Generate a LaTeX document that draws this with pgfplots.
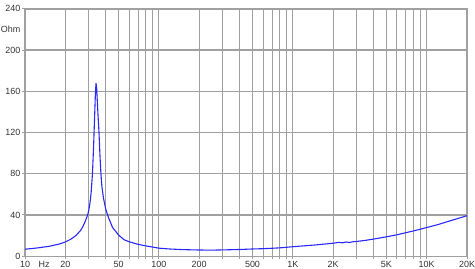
\documentclass[border=0pt]{standalone}
\usepackage{fontspec}
\setmainfont{Liberation Sans}
\usepackage{pgfplots}
\pgfplotsset{compat=1.18}
\definecolor{gridgray}{RGB}{160,160,160}
\definecolor{curveblue}{RGB}{40,40,250}
\begin{document}
\begin{tikzpicture}
\begin{axis}[
  scale only axis,
  width=442bp, height=247.3bp,
  xmode=log,
  xmin=10, xmax=20000,
  ymin=0, ymax=240,
  axis line style={gridgray, line width=1.2bp},
  xtick={10,20,50,100,200,500,1000,2000,5000,10000,20000},
  xticklabels={10,20,50,100,200,500,1K,2K,5K,10K,20K},
  minor xtick={30,40,60,70,80,90,300,400,600,700,800,900,3000,4000,6000,7000,8000,9000},
  ytick={0,40,80,120,160,200,240},
  xmajorgrids=true, xminorgrids=true, ymajorgrids=true,
  grid style={gridgray, line width=1bp},
  y grid style={gridgray, line width=1.3bp},
  tick align=outside,
  major tick length=3bp,
  minor tick length=3bp,
  every tick/.style={gridgray, line width=1bp},
  tick pos=left,
  tick label style={font=\fontsize{9}{10}\selectfont, text=black!80},
  /pgf/number format/assume math mode=true,
  log ticks with fixed point,
  xticklabel style={inner sep=1.5pt},
  yticklabel style={inner sep=1.5pt},
  clip=true,
]
\coordinate (bl) at (rel axis cs:0,0);
\coordinate (tr) at (rel axis cs:1,1);
\coordinate (hz) at (axis cs:13.9,0);
\coordinate (ohm) at (axis cs:10,220);
\addplot[curveblue, line width=1.1pt] coordinates {
(10,6.8) (12,7.8) (15,9.5) (18,11.8) (20,13.8) (22,16.5) (24,20) (26,25)
(27,28.5) (28,33) (29,38) (29.5,41) (30,45) (30.6,52) (31.2,62) (31.9,80)
(32.5,105) (33,130) (33.5,155) (33.9,168) (34.3,163) (35,140) (35.7,120)
(36.3,98) (36.9,80) (37.5,68) (38.5,57) (40,46) (41.9,38) (45,28)
(50,20.5) (55,16) (60,14) (70,11.5) (80,10) (100,7.8) (120,7) (150,6.4)
(200,6) (250,5.9) (300,6.1) (400,6.5) (500,7) (600,7.3) (700,7.7) (800,8.1)
(1000,9.2) (1200,10) (1500,11) (1800,12) (2000,12.6) (2200,13.4) (2350,13)
(2500,13.8) (2650,13.3) (2800,14) (3000,14.3) (3500,15.4) (4000,16.6)
(5000,18.8) (6000,20.8) (7000,22.8) (8000,24.6) (10000,27.8) (12000,30.5)
(14000,33.2) (17000,36.5) (20000,39.3)
};
\end{axis}
\node[anchor=north, inner sep=1.5pt, font=\fontsize{9}{10}\selectfont, text=black!80] at ([yshift=-3bp]hz) {Hz};
\node[anchor=east, inner sep=1.5pt, font=\fontsize{9}{10}\selectfont, text=black!80] at ([xshift=-3bp]ohm) {Ohm};
\pgfresetboundingbox
\path[use as bounding box] ([xshift=-25bp,yshift=-12.8bp]bl) rectangle ([xshift=8bp,yshift=8.9bp]tr);
\end{tikzpicture}
\end{document}
